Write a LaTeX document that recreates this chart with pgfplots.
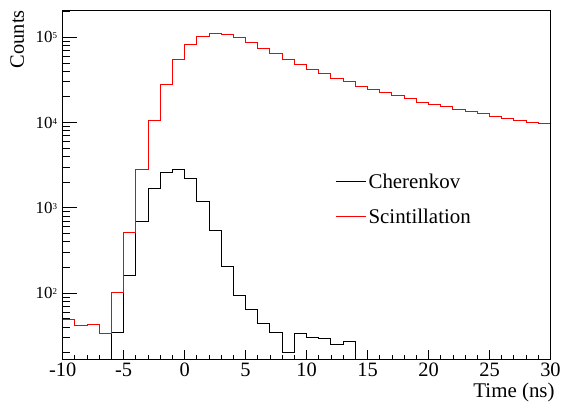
\documentclass[border=0pt]{standalone}
\usepackage{fontspec}
\setmainfont{Liberation Serif}
\usepackage{pgfplots}
\pgfplotsset{compat=1.18}
\newcommand{\tenpow}[1]{10\raisebox{0.5ex}{\fontsize{9}{9}\selectfont #1}}
\begin{document}
\begin{tikzpicture}
\begin{axis}[
  scale only axis, width=488bp, height=350bp,
  at={(0,0)}, anchor=south west,
  xmin=-10, xmax=30, ymin=16.5, ymax=2.09e5, ymode=log,
  axis line style={line width=0.8bp},
  xtick pos=bottom, ytick pos=left, tick align=inside,
  xtick={-10,-5,0,5,10,15,20,25,30},
  xticklabels={-10,-5,0,5,10,15,20,25,30},
  minor x tick num=4,
  ytick={100,1000,10000,100000},
  yticklabels={\tenpow{2},\tenpow{3},\tenpow{4},\tenpow{5}},
  minor ytick={20,30,40,50,60,70,80,90,200,300,400,500,600,700,800,900,2000,3000,4000,5000,6000,7000,8000,9000,20000,30000,40000,50000,60000,70000,80000,90000,200000},
  tick style={black, line width=0.8bp},
  major tick length=10bp, minor tick length=5bp,
  ytick style={/pgfplots/major tick length=14.7bp, /pgfplots/minor tick length=7.3bp},
  xticklabel style={font=\fontsize{20.5}{22}\selectfont},
  yticklabel style={font=\fontsize{17}{19}\selectfont, xshift=-2bp},
  xlabel={Time (ns)},
  xlabel style={at={(axis description cs:1.0088,-0.1086)}, anchor=base east, inner sep=0pt, font=\fontsize{21}{24}\selectfont},
  ylabel={Counts},
  ylabel style={at={(axis description cs:-0.0793,1)}, anchor=base east, inner sep=0pt, font=\fontsize{20.5}{24}\selectfont},
  legend style={at={(axis description cs:0.558,0.539)}, anchor=north west, draw=none, fill=none,
    font=\fontsize{21}{24}\selectfont, row sep=14bp, inner sep=0pt,
    nodes={inner sep=2.5bp}},
  legend cell align=left,
  legend image code/.code={\draw[#1] plot coordinates {(0bp,0bp) (15bp,0bp) (30bp,0bp)};},
]
\addplot[const plot, black, line width=1bp] coordinates {
(-7,1) (-6,35) (-5,161) (-4,697) (-3,1680) (-2,2610) (-1,2830) (0,2200) (1,1190)
(2,538) (3,207) (4,95) (5,64.7) (6,44) (7,34.5) (8,20.3) (9,33.6) (10,30.4)
(11,29.3) (12,25.2) (13,27.1) (14,1)};
\addlegendentry{Cherenkov}
\addplot[const plot, red, line width=1bp] coordinates {
(-10,49.4) (-9,41.2) (-8,42.4) (-7,33.6) (-6,103) (-5,510) (-4,2800) (-3,10500)
(-2,27700) (-1,54300) (0,82800) (1,103500) (2,110000) (3,107000) (4,98500)
(5,86400) (6,74300) (7,64300) (8,55300) (9,48300) (10,41800) (11,37200)
(12,32500) (13,30000) (14,26700) (15,24200) (16,22700) (17,20800) (18,19100)
(19,17400) (20,16300) (21,15400) (22,14100) (23,13400) (24,12700) (25,11900)
(26,11100) (27,10600) (28,10000) (29,9770) (30,9770)};
\addlegendentry{Scintillation}
\end{axis}
\path (-62.7bp,-42bp) rectangle (501.3bp,360bp);
\end{tikzpicture}
\end{document}
